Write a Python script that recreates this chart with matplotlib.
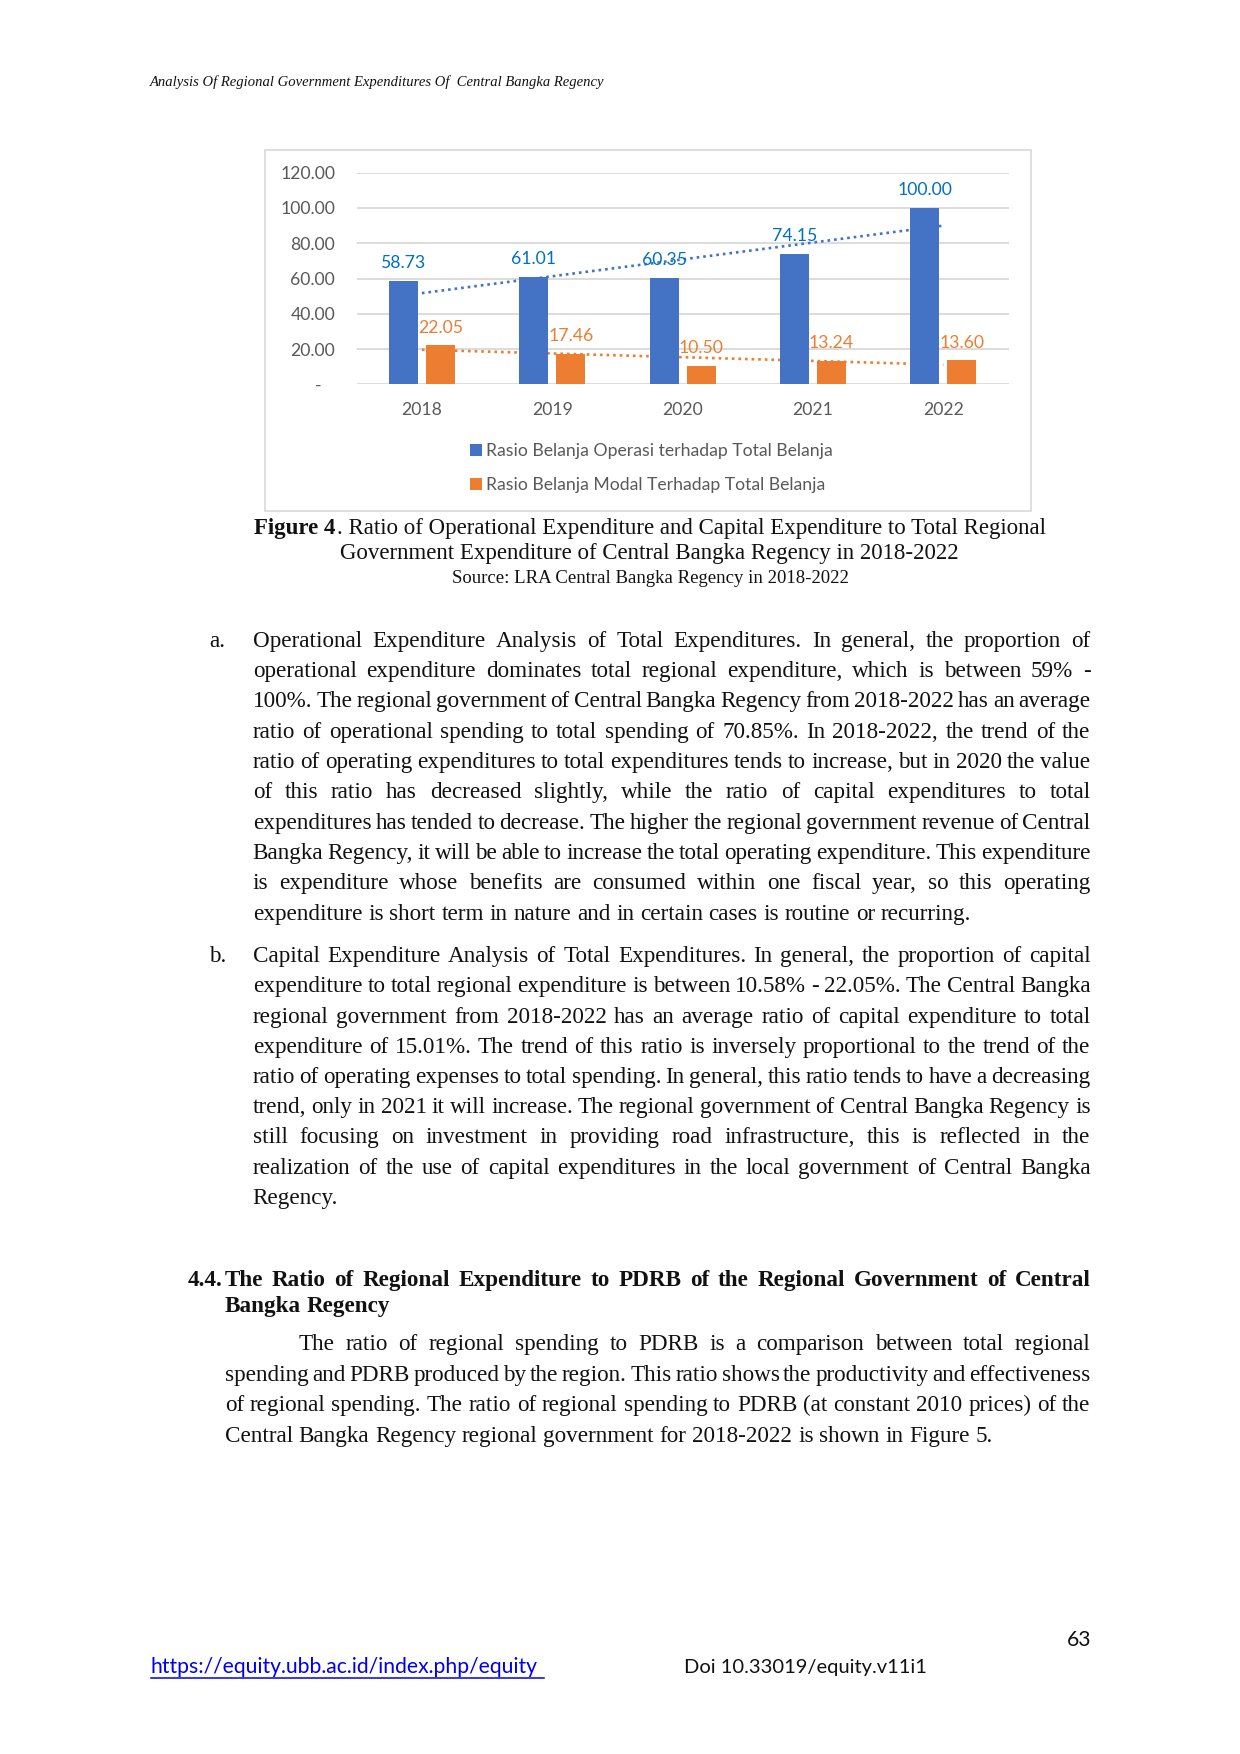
import numpy as np
import matplotlib
matplotlib.use('Agg')
import matplotlib.pyplot as plt
from matplotlib.font_manager import FontProperties
from matplotlib.patches import Rectangle
from matplotlib.lines import Line2D

# ---------------- data ----------------
years = ['2018', '2019', '2020', '2021', '2022']
op_ratio = [58.73, 61.01, 60.35, 74.15, 100.00]
cap_ratio = [22.05, 17.46, 10.50, 13.24, 13.60]
ytick_vals = [0, 20, 40, 60, 80, 100, 120]
ytick_labels = ['-   ', '20.00', '40.00', '60.00', '80.00', '100.00', '120.00']
legend_labels = ['Rasio Belanja Operasi terhadap Total Belanja',
                 'Rasio Belanja Modal Terhadap Total Belanja']

header = 'Analysis Of Regional Government Expenditures Of  Central Bangka Regency'
caption_bold = 'Figure 4'
caption_rest = '. Ratio of Operational Expenditure and Capital Expenditure to Total Regional'
caption_line2 = 'Government Expenditure of Central Bangka Regency in 2018-2022'
source_line = 'Source: LRA Central Bangka Regency in 2018-2022'

para_a = [
    'Operational Expenditure Analysis of Total Expenditures. In general, the proportion of',
    'operational expenditure dominates total regional expenditure, which is between 59% -',
    '100%. The regional government of Central Bangka Regency from 2018-2022 has an average',
    'ratio of operational spending to total spending of 70.85%. In 2018-2022, the trend of the',
    'ratio of operating expenditures to total expenditures tends to increase, but in 2020 the value',
    'of this ratio has decreased slightly, while the ratio of capital expenditures to total',
    'expenditures has tended to decrease. The higher the regional government revenue of Central',
    'Bangka Regency, it will be able to increase the total operating expenditure. This expenditure',
    'is expenditure whose benefits are consumed within one fiscal year, so this operating',
    'expenditure is short term in nature and in certain cases is routine or recurring.',
]
para_b = [
    'Capital Expenditure Analysis of Total Expenditures. In general, the proportion of capital',
    'expenditure to total regional expenditure is between 10.58% - 22.05%. The Central Bangka',
    'regional government from 2018-2022 has an average ratio of capital expenditure to total',
    'expenditure of 15.01%. The trend of this ratio is inversely proportional to the trend of the',
    'ratio of operating expenses to total spending. In general, this ratio tends to have a decreasing',
    'trend, only in 2021 it will increase. The regional government of Central Bangka Regency is',
    'still focusing on investment in providing road infrastructure, this is reflected in the',
    'realization of the use of capital expenditures in the local government of Central Bangka',
    'Regency.',
]
heading_num = '4.4.'
heading_lines = [
    'The Ratio of Regional Expenditure to PDRB of the Regional Government of Central',
    'Bangka Regency',
]
para_c = [
    'The ratio of regional spending to PDRB is a comparison between total regional',
    'spending and PDRB produced by the region. This ratio shows the productivity and effectiveness',
    'of regional spending. The ratio of regional spending to PDRB (at constant 2010 prices) of the',
    'Central Bangka Regency regional government for 2018-2022 is shown in Figure 5.',
]
footer_url = 'https://equity.ubb.ac.id/index.php/equity'
footer_doi = 'Doi 10.33019/equity.v11i1'
page_no = '63'

# ---------------- helpers ----------------
W, H = 1240, 1754
fig = plt.figure(figsize=(W / 100, H / 100), dpi=100)
fig.patch.set_facecolor('white')
renderer = fig.canvas.get_renderer()


def fx(p):
    return p / W


def fy(p):
    return 1 - p / H


def FP(family, size, weight='normal', style='normal'):
    return FontProperties(family=family, size=size, weight=weight, style=style)


def width_px(s, fp):
    t = fig.text(0, 0, s, fontproperties=fp)
    w = t.get_window_extent(renderer).width
    t.remove()
    return w


def fit_size(s, family, target, weight='normal', style='normal'):
    return 10.0 * target / width_px(s, FP(family, 10, weight, style))


SERIF = 'Liberation Serif'
SANS = 'Lato'
INK = '#111111'


def draw_line(line, x0, x1, yc, fp, justify=True, color=INK):
    em = fp.get_size_in_points() * 100 / 72
    yb = yc + 0.30 * em
    words = line.split()
    widths = [width_px(w, fp) for w in words]
    space = width_px('a a', fp) - 2 * width_px('a', fp)
    if justify and len(words) > 1:
        gap = (x1 - x0 - sum(widths)) / (len(words) - 1)
    else:
        gap = space
    x = x0
    for w, wd in zip(words, widths):
        fig.text(fx(x), fy(yb), w, fontproperties=fp, va='baseline', ha='left', color=color)
        x += wd + gap


# ---------------- header ----------------
hs = fit_size(header, SERIF, 452, style='italic')
hfp = FP(SERIF, hs, style='italic')
fig.text(fx(150), fy(81.7 + 0.3 * hs * 100 / 72), header, fontproperties=hfp,
         va='baseline', ha='left', color=INK)

# ---------------- chart ----------------
fig.add_artist(Rectangle((fx(265), fy(511)), fx(1031) - fx(265), fy(150) - fy(511),
                         transform=fig.transFigure, fill=False, edgecolor='#D9D9D9', lw=1.2))

ax_l, ax_r, ax_t, ax_b = 356.7, 1008.5, 172.7, 384.3
ax = fig.add_axes([fx(ax_l), fy(ax_b), fx(ax_r) - fx(ax_l), fy(ax_t) - fy(ax_b)])
x = np.arange(len(years))
bw, off = 0.222, 0.142
blue, orange = '#4472C4', '#ED7D31'
b1 = ax.bar(x - off, op_ratio, bw, color=blue, zorder=3)
b2 = ax.bar(x + off, cap_ratio, bw, color=orange, zorder=3)

# linear trendlines (as in the Excel chart)
for vals, col in ((op_ratio, blue), (cap_ratio, orange)):
    k, c = np.polyfit(x, vals, 1)
    ax.plot(x, k * x + c, color=col, lw=1.9, ls=(0, (1, 1.5)), zorder=2)

lab_fs = 12.7
for xi, v in zip(x, op_ratio):
    ax.annotate(f'{v:.2f}', (xi - off, v), xytext=(0, 9.2), textcoords='offset points',
                ha='center', va='baseline', fontsize=lab_fs, family=SANS, color='#0070C0')
for xi, v in zip(x, cap_ratio):
    ax.annotate(f'{v:.2f}', (xi + off, v), xytext=(0, 9.2), textcoords='offset points',
                ha='center', va='baseline', fontsize=lab_fs, family=SANS, color=orange)

ax.set_xlim(-0.5, 4.5)
ax.set_ylim(0, 120)
ax.set_yticks(ytick_vals)
ax.set_yticklabels(ytick_labels, family=SANS, fontsize=lab_fs, color='#595959')
ax.set_xticks(x)
ax.set_xticklabels(years, family=SANS, fontsize=lab_fs, color='#595959')
ax.tick_params(axis='y', length=0, pad=15.6)
ax.tick_params(axis='x', length=0, pad=12.8)
ax.yaxis.grid(True, color='#D9D9D9', lw=1.3)
ax.set_axisbelow(True)
for s in ax.spines.values():
    s.set_visible(False)
ax.set_facecolor('none')

leg = ax.legend([b1, b2], legend_labels, loc='center',
                bbox_to_anchor=(fx(651.5), fy(468)), bbox_transform=fig.transFigure,
                frameon=False, ncol=1, prop=FP(SANS, lab_fs), labelcolor='#595959',
                handlelength=0.68, handleheight=0.68, handletextpad=0.22,
                labelspacing=1.0, borderpad=0)

# ---------------- caption ----------------
cs = 10.0 * 793 / (width_px(caption_bold, FP(SERIF, 10, 'bold')) +
                   width_px(caption_rest, FP(SERIF, 10)))
cfb, cfr = FP(SERIF, cs, 'bold'), FP(SERIF, cs)
wb, wr = width_px(caption_bold, cfb), width_px(caption_rest, cfr)
x0 = 649.4 - (wb + wr) / 2
emc = cs * 100 / 72
fig.text(fx(x0), fy(527 + 0.3 * emc), caption_bold, fontproperties=cfb, va='baseline', ha='left', color=INK)
fig.text(fx(x0 + wb + 1), fy(527 + 0.3 * emc), caption_rest, fontproperties=cfr, va='baseline', ha='left', color=INK)
fig.text(fx(649.4), fy(552.6 + 0.3 * emc), caption_line2, fontproperties=cfr, va='baseline', ha='center', color=INK)
ss = fit_size(source_line, SERIF, 396)
fig.text(fx(650), fy(577 + 0.3 * ss * 100 / 72), source_line, fontproperties=FP(SERIF, ss),
         va='baseline', ha='center', color=INK)

# ---------------- body ----------------
L, R = 252.8, 1090.6
need = []
for ln in para_a[:-1] + para_b[:-1]:
    need.append(10.0 * (R - L) / width_px(ln, FP(SERIF, 10)))
for ln in para_c[1:-1]:
    need.append(10.0 * (R - 224.8) / width_px(ln, FP(SERIF, 10)))
bs = min(need) * 1.03
bfp = FP(SERIF, bs)

draw_line('a.', 209, 0, 639.8, bfp, justify=False)
for i, ln in enumerate(para_a):
    draw_line(ln, L, R, 639.8 + i * 30.33, bfp, justify=(i < len(para_a) - 1))
draw_line('b.', 209, 0, 955.3, bfp, justify=False)
for i, ln in enumerate(para_b):
    draw_line(ln, L, R, 955.3 + i * 30.2, bfp, justify=(i < len(para_b) - 1))

hfpb = FP(SERIF, bs, 'bold')
draw_line(heading_num, 188, 0, 1278.6, hfpb, justify=False)
draw_line(heading_lines[0], 224.8, R, 1278.6, hfpb, justify=True)
draw_line(heading_lines[1], 224.8, R, 1305.4, hfpb, justify=False)

for i, ln in enumerate(para_c):
    xs = 298.7 if i == 0 else 224.8
    draw_line(ln, xs, R, 1343.5 + i * 30.5, bfp, justify=(i < len(para_c) - 1))

# ---------------- footer ----------------
us = fit_size(footer_url, SANS, 389)
ufp = FP(SANS, us)
emu = us * 100 / 72
fig.text(fx(151), fy(1666.7 + 0.32 * emu), footer_url, fontproperties=ufp,
         va='baseline', ha='left', color='#0000EE')
fig.add_artist(Line2D([fx(151), fx(544)], [fy(1677.5), fy(1677.5)],
                      transform=fig.transFigure, color='#0000EE', lw=1.1))
ds = fit_size(footer_doi, SANS, 243)
fig.text(fx(683.5), fy(1666.7 + 0.32 * emu), footer_doi, fontproperties=FP(SANS, ds),
         va='baseline', ha='left', color=INK)
fig.text(fx(1091), fy(1638.8 + 0.32 * emu), page_no, fontproperties=ufp,
         va='baseline', ha='right', color=INK)

fig.savefig('out.png', dpi=100, facecolor='white')
